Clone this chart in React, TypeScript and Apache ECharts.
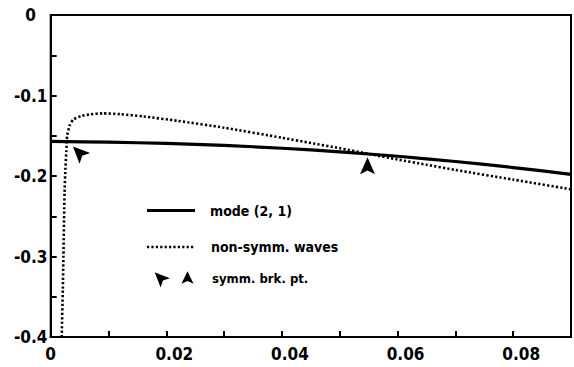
import React, { useEffect, useRef } from "react";
import * as echarts from "echarts";

// ---- data ----
const modeX = [0, 0.01, 0.02, 0.03, 0.04, 0.05, 0.06, 0.07, 0.08, 0.09];
const modeY = [-0.157, -0.158, -0.1595, -0.162, -0.1655, -0.17, -0.1755, -0.182, -0.1895, -0.198];

const waveX = [
  0.0019, 0.0021, 0.0022, 0.0024, 0.00255, 0.0027, 0.00285, 0.0033, 0.0039, 0.0053,
  0.0067, 0.009, 0.012, 0.016, 0.022, 0.03, 0.04, 0.045, 0.05, 0.055, 0.06, 0.065,
  0.07, 0.08, 0.09,
];
const waveY = [
  -0.4, -0.34, -0.3, -0.22, -0.19, -0.17, -0.15, -0.137, -0.13, -0.1255,
  -0.1236, -0.1222, -0.1232, -0.126, -0.1315, -0.14, -0.1525, -0.159, -0.1655, -0.1725, -0.1795, -0.186,
  -0.1925, -0.2045, -0.2165,
];

const breakX = [0.0028, 0.0548];
const breakY = [-0.157, -0.1725];
const breakRotate = [45, 0];
const breakOffset = [
  [12, 11],
  [0, 12],
];

const xTickLabels = ["0", "0.02", "0.04", "0.06", "0.08"];
const yTickLabels = ["0", "-0.1", "-0.2", "-0.3", "-0.4"];

const legendNames = ["mode (2, 1)", "non-symm. waves", "symm. brk. pt."];

const ARROW_SYMBOL = "path://M5,0 L10.5,12 L5,9.3 L-0.5,12 Z";
echarts.graphic.registerShape(
  "arrowhead",
  echarts.graphic.extendPath("M0,-6 L5.5,6 L0,3.3 L-5.5,6 Z", {})
);

const FONT = '"DejaVu Sans Condensed", "DejaVu Sans", sans-serif';

export default function App() {
  const ref = useRef<HTMLDivElement>(null);

  useEffect(() => {
    if (!ref.current) return;
    const chart = echarts.init(ref.current, null, { renderer: "svg" });

    const findLabel = (labels: string[], v: number) =>
      labels.find((l) => Math.abs(Number(l) - v) < 1e-9);

    chart.setOption({
      animation: false,
      backgroundColor: "#fff",
      grid: {
        left: 50.7,
        top: 15,
        width: 525.6,
        height: 322,
        show: true,
        borderColor: "#000",
        borderWidth: 2,
        backgroundColor: "transparent",
      },
      xAxis: {
        type: "value",
        min: 0,
        max: 0.09,
        interval: 0.01,
        splitLine: { show: false },
        axisLine: { show: true, onZero: false, lineStyle: { color: "#000", width: 2 } },
        axisTick: { show: true, inside: true, length: 6, lineStyle: { color: "#000", width: 2 } },
        axisLabel: {
          margin: 8,
          color: "#000",
          formatter: (v: number) => {
            const l = findLabel(xTickLabels, v);
            if (l === undefined) return "";
            return l === "0" ? "{z|" + l + "}" : "{a|" + l + "}";
          },
          rich: {
            z: { fontFamily: FONT, fontWeight: 700, fontSize: 17, color: "#000" },
            a: {
              fontFamily: FONT,
              fontWeight: 700,
              fontSize: 17,
              color: "#000",
              padding: [0, 0, 0, 16],
            },
          },
        },
      },
      yAxis: {
        type: "value",
        min: -0.4,
        max: 0,
        interval: 0.05,
        splitLine: { show: false },
        axisLine: { show: true, onZero: false, lineStyle: { color: "#000", width: 2 } },
        axisTick: { show: true, inside: true, length: 6, lineStyle: { color: "#000", width: 2 } },
        axisLabel: {
          margin: 20,
          align: "center",
          color: "#000",
          fontFamily: FONT,
          fontWeight: 700,
          fontSize: 17,
          formatter: (v: number) => {
            const l = findLabel(yTickLabels, v);
            return l === undefined ? "" : l;
          },
        },
      },
      series: [
        {
          name: legendNames[0],
          type: "line",
          data: modeX.map((x, i) => [x, modeY[i]]),
          showSymbol: false,
          smooth: 0.3,
          lineStyle: { color: "#000", width: 3.2 },
          z: 3,
        },
        {
          name: legendNames[1],
          type: "line",
          data: waveX.map((x, i) => [x, waveY[i]]),
          showSymbol: false,
          smooth: 0.2,
          lineStyle: { color: "#000", width: 2.6, type: [2.2, 2.2], cap: "butt" },
          z: 2,
        },
        {
          name: legendNames[2],
          type: "scatter",
          data: breakX.map((x, i) => ({
            value: [x, breakY[i]],
            symbolRotate: breakRotate[i],
            symbolOffset: breakOffset[i],
          })),
          symbol: ARROW_SYMBOL,
          symbolSize: [15, 17],
          itemStyle: { color: "#000", opacity: 1 },
          z: 4,
        },
      ],
      graphic: [
        {
          type: "line",
          shape: { x1: 147, y1: 210.5, x2: 195, y2: 210.5 },
          style: { stroke: "#000", lineWidth: 3.2 },
        },
        {
          type: "text",
          x: 210,
          y: 211,
          style: {
            text: legendNames[0],
            font: "bold 14px " + FONT,
            fill: "#000",
            align: "left",
            verticalAlign: "middle",
            textVerticalAlign: "middle",
          },
        },
        {
          type: "line",
          shape: { x1: 147, y1: 247, x2: 194, y2: 247 },
          style: { stroke: "#000", lineWidth: 2.6, lineDash: [2.2, 2.2], lineCap: "butt" },
        },
        {
          type: "text",
          x: 211,
          y: 247,
          style: {
            text: legendNames[1],
            font: "bold 14px " + FONT,
            fill: "#000",
            align: "left",
            verticalAlign: "middle",
            textVerticalAlign: "middle",
          },
        },
        {
          type: "arrowhead",
          x: 160,
          y: 277.5,
          rotation: Math.PI / 4,
          scaleX: 1.2,
          scaleY: 1.25,
          style: { fill: "#000" },
        },
        {
          type: "arrowhead",
          x: 187.5,
          y: 277.5,
          scaleX: 1.1,
          scaleY: 1.05,
          style: { fill: "#000" },
        },
        {
          type: "text",
          x: 212,
          y: 278,
          style: {
            text: legendNames[2],
            font: "bold 13px " + FONT,
            fill: "#000",
            align: "left",
            verticalAlign: "middle",
            textVerticalAlign: "middle",
          },
        },
      ],
    });

    return () => {
      chart.dispose();
    };
  }, []);

  return (
    <div
      ref={ref}
      style={{
        position: "fixed",
        left: 0,
        top: 0,
        width: 574,
        height: 367,
        background: "#fff",
      }}
    />
  );
}
